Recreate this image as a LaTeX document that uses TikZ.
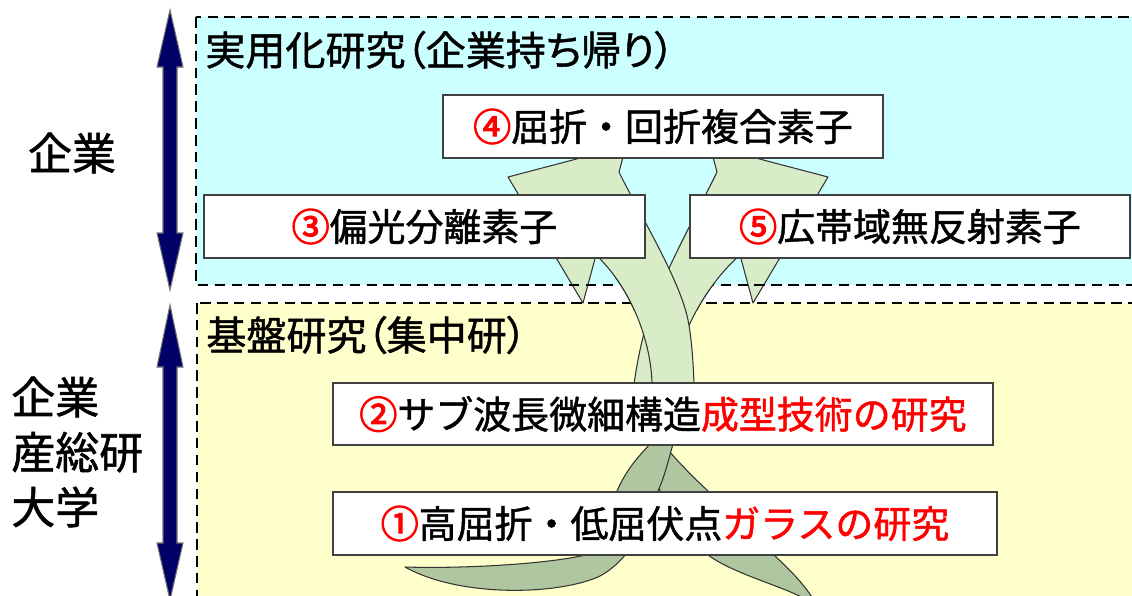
\documentclass[tikz,border=0pt]{standalone}
\usepackage{fontspec}
\newfontfamily\jp[FakeBold=1.2]{Noto Sans CJK JP}
\newfontfamily\jpp[RawFeature=+palt,FakeBold=1.2]{Noto Sans CJK JP}
\newfontfamily\jpnum[FakeBold=3]{Noto Sans CJK JP}
\definecolor{cyanbg}{HTML}{CCFFFF}
\definecolor{yellowbg}{HTML}{FFFFCC}
\definecolor{lightgr}{RGB}{216,236,200}
\definecolor{darkgr}{RGB}{176,198,160}
\definecolor{navyblue}{HTML}{000066}
\definecolor{redtext}{HTML}{FF0000}
\newcommand\rnum[1]{{\jpnum\color{redtext}#1}}
\tikzset{
  boxnode/.style={draw=black!75, line width=0.9pt, fill=white, inner sep=0pt, font=\jp\fontsize{21.6}{26}\selectfont},
  regionline/.style={draw=black, line width=1.6pt, dash pattern=on 6pt off 3.6pt},
  ribbonline/.style={draw=black!80, line width=0.6pt, line join=round},
  navyarrow/.style={fill=navyblue, draw=black!55, line width=0.6pt},
  lightL/.style={insert path={(652,430) -- (652,382) .. controls (650,335) and (628,285) .. (596,255) -- (583,303) -- (508,177) -- (626,146) -- (619,172) .. controls (640,215) and (680,280) .. (688,320) .. controls (694,350) and (695,400) .. (694,430) -- cycle}},
  lightR/.style={insert path={(673,430) -- (673,382) .. controls (678,335) and (706,285) .. (740,255) -- (753,303) -- (828,177) -- (710,146) -- (717,172) .. controls (696,215) and (660,280) .. (648,320) .. controls (638,350) and (630,400) .. (631,430) -- cycle}}
}
\begin{document}
\begin{tikzpicture}[x=0.02cm, y=-0.02cm]
\clip (0,0) rectangle (1132,595);
\fill[white] (0,0) rectangle (1132,595);
% regions
\fill[cyanbg] (196,17) rectangle (1145,285);
\fill[yellowbg] (197,303) rectangle (1145,610);
% back (dark) parts of ribbons
\path[ribbonline, fill=darkgr] (648,444) -- (654,420) -- (676,420) -- (663,444) .. controls (678,462) and (694,478) .. (708,491) .. controls (735,515) and (760,540) .. (775,556) .. controls (790,570) and (805,585) .. (815,602) -- (810,602) .. controls (790,588) and (735,575) .. (708,555) .. controls (690,540) and (665,510) .. (660,491) .. controls (656,475) and (650,460) .. (648,444) -- cycle;
\path[ribbonline, fill=darkgr] (405,567) .. controls (470,569) and (560,563) .. (593,553) .. controls (608,535) and (611,510) .. (617,491) .. controls (627,468) and (640,455) .. (650,444) -- (660,420) -- (686,420) -- (673,444) .. controls (668,462) and (664,478) .. (658,491) .. controls (650,520) and (630,560) .. (600,576) .. controls (560,595) and (460,598) .. (405,567) -- cycle;
% front (light) parts
\path[ribbonline, fill=lightgr, lightR];
\path[ribbonline, fill=lightgr, lightL];
% dashed borders
\draw[regionline] (196,17) rectangle (1145,285);
\draw[regionline] (197,303) rectangle (1145,610);
\begin{scope}
\clip (612,278) rectangle (715,310);
\path[ribbonline, fill=lightgr, lightR];
\path[ribbonline, fill=lightgr, lightL];
\end{scope}
% titles
\node[anchor=west, inner sep=0pt, font=\jpp\fontsize{22.8}{27}\selectfont] (t1) at (205,50) {実用化研究（企業持ち帰り）};
\node[anchor=west, inner sep=0pt, font=\jpp\fontsize{22.8}{27}\selectfont] (t2) at (206,335) {基盤研究（集中研）};
% boxes
\node[boxnode, minimum width=8.8cm, minimum height=1.26cm] (b4) at (663,126.5) {\rnum{④}屈折・回折複合素子};
\node[boxnode, minimum width=8.82cm, minimum height=1.26cm] (b3) at (424.5,226.5) {\rnum{③}偏光分離素子};
\node[boxnode, minimum width=8.8cm, minimum height=1.26cm] (b5) at (910,226.5) {\rnum{⑤}広帯域無反射素子};
\node[boxnode, minimum width=13.2cm, minimum height=1.24cm] (b2) at (663,414) {\rnum{②}サブ波長微細構造{\color{redtext}成型技術の研究}};
\node[boxnode, minimum width=13.28cm, minimum height=1.26cm] (b1) at (665,523.5) {\rnum{①}高屈折・低屈伏点{\color{redtext}ガラスの研究}};
% left labels
\node[inner sep=0pt, font=\jp\fontsize{25}{31.3}\selectfont] (lab1) at (72,153) {企業};
\node[anchor=west, align=left, inner sep=0pt, font=\jp\fontsize{25}{31.3}\selectfont] (lab2) at (11,452) {企業\\産総研\\大学};
% left double arrows
\path[navyarrow] (170,10) -- (183,67) -- (177,67) -- (177,233) -- (183,233) -- (170,290) -- (157,233) -- (163,233) -- (163,67) -- (157,67) -- cycle;
\path[navyarrow] (170,305) -- (183,367) -- (177,367) -- (177,543) -- (183,543) -- (170,600) -- (157,543) -- (163,543) -- (163,367) -- (157,367) -- cycle;
\end{tikzpicture}
\end{document}
